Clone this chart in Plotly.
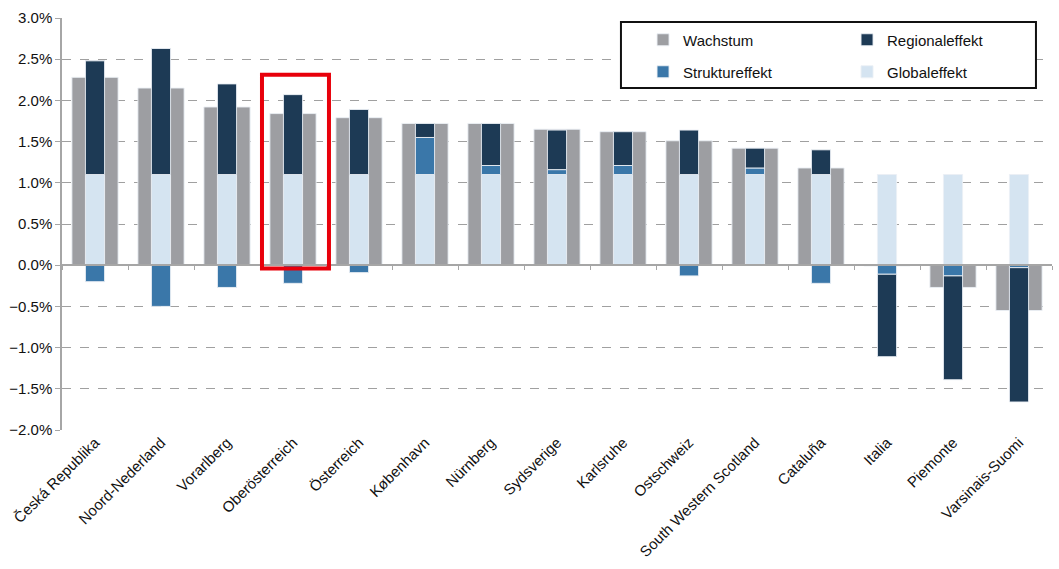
import plotly.graph_objects as go

categories = ["Česká Republika", "Noord-Nederland", "Vorarlberg", "Oberösterreich",
              "Österreich", "København", "Nürnberg", "Sydsverige", "Karlsruhe",
              "Ostschweiz", "South Western Scotland", "Cataluña", "Italia",
              "Piemonte", "Varsinais-Suomi"]

wachstum = [2.28, 2.15, 1.92, 1.84, 1.79, 1.72, 1.72, 1.65, 1.62, 1.51, 1.42, 1.18, -0.01, -0.27, -0.55]
globaleffekt = [1.10] * 15
struktureffekt = [-0.20, -0.50, -0.27, -0.22, -0.09, 0.45, 0.11, 0.06, 0.11, -0.13, 0.08, -0.22, -0.11, -0.13, -0.03]
regionaleffekt = [1.38, 1.53, 1.10, 0.97, 0.79, 0.17, 0.51, 0.48, 0.41, 0.54, 0.24, 0.30, -1.00, -1.26, -1.63]

highlight = "Oberösterreich"

C_GREY = "#9D9EA2"
C_NAVY = "#1D3A55"
C_STRUCT = "#3A77A9"
C_GLOBAL = "#D5E4F1"
EDGE = "rgba(235,240,245,0.9)"
FONT = "Liberation Sans"

fig = go.Figure()
fig.add_trace(go.Bar(x=categories, y=wachstum, name="Wachstum", marker=dict(color=C_GREY, line=dict(color=EDGE, width=1)),
                     width=0.70, xaxis="x", yaxis="y", legend="legend"))
fig.add_trace(go.Bar(x=categories, y=globaleffekt, name="Globaleffekt", marker=dict(color=C_GLOBAL, line=dict(color=EDGE, width=1)),
                     width=0.29, xaxis="x2", yaxis="y", legend="legend2", legendrank=2))
fig.add_trace(go.Bar(x=categories, y=struktureffekt, name="Struktureffekt", marker=dict(color=C_STRUCT, line=dict(color=EDGE, width=1)),
                     width=0.29, xaxis="x2", yaxis="y", legend="legend2", legendrank=1))
fig.add_trace(go.Bar(x=categories, y=regionaleffekt, name="Regionaleffekt", marker=dict(color=C_NAVY, line=dict(color=EDGE, width=1)),
                     width=0.29, xaxis="x2", yaxis="y", legend="legend"))

ymin, ymax = -2.0, 3.0
zero_pos = (0 - ymin) / (ymax - ymin)
hi = categories.index(highlight)

fig.update_layout(
    width=1059, height=569,
    margin=dict(l=62, r=7, t=18, b=139, autoexpand=False),
    paper_bgcolor="white", plot_bgcolor="white",
    barmode="relative",
    font=dict(family=FONT, size=15, color="#111111"),
    showlegend=True,
    xaxis=dict(type="category", categoryorder="array", categoryarray=categories,
               range=[-0.5, len(categories) - 0.5], tickangle=-45, showgrid=False,
               showline=False, ticks="", zeroline=False, tickfont=dict(size=15)),
    xaxis2=dict(type="category", categoryorder="array", categoryarray=categories,
                range=[-0.5, len(categories) - 0.5], overlaying="x", anchor="free",
                position=zero_pos, showticklabels=False, showgrid=False,
                showline=True, linecolor="#A6A6A6", linewidth=1.5,
                ticks="outside", tickson="boundaries", ticklen=4, tickcolor="#A6A6A6",
                zeroline=False),
    yaxis=dict(range=[ymin, ymax], dtick=0.5, tick0=0, tickformat=".1f", ticksuffix="%",
               showgrid=True, gridcolor="#A0A0A0", griddash="dash", gridwidth=1,
               showline=True, linecolor="#A6A6A6", linewidth=1.5,
               ticks="outside", ticklen=5, tickcolor="#A6A6A6",
               zeroline=False, tickfont=dict(size=15)),
    legend=dict(orientation="h", x=0.5869, xanchor="left", y=0.9466, yanchor="middle",
                entrywidth=159, entrywidthmode="pixels", bgcolor="rgba(0,0,0,0)",
                borderwidth=0, font=dict(size=15, family=FONT)),
    legend2=dict(orientation="h", x=0.5869, xanchor="left", y=0.8689, yanchor="middle",
                 entrywidth=159, entrywidthmode="pixels", bgcolor="rgba(0,0,0,0)",
                 borderwidth=0, traceorder="normal", font=dict(size=15, family=FONT)),
    shapes=[
        dict(type="rect", xref="paper", yref="paper", x0=0.5646, x1=0.9838, y0=0.830, y1=0.9903,
             line=dict(color="#111111", width=2), fillcolor="white", layer="above"),
        dict(type="rect", xref="x", yref="y", x0=hi - 0.47, x1=hi + 0.545, y0=-0.04, y1=2.31,
             line=dict(color="#E8000B", width=4), fillcolor="rgba(0,0,0,0)", layer="above"),
    ],
)

fig.write_html("out.html", config={"displayModeBar": False},
               post_script="document.body.style.margin='0px';")
